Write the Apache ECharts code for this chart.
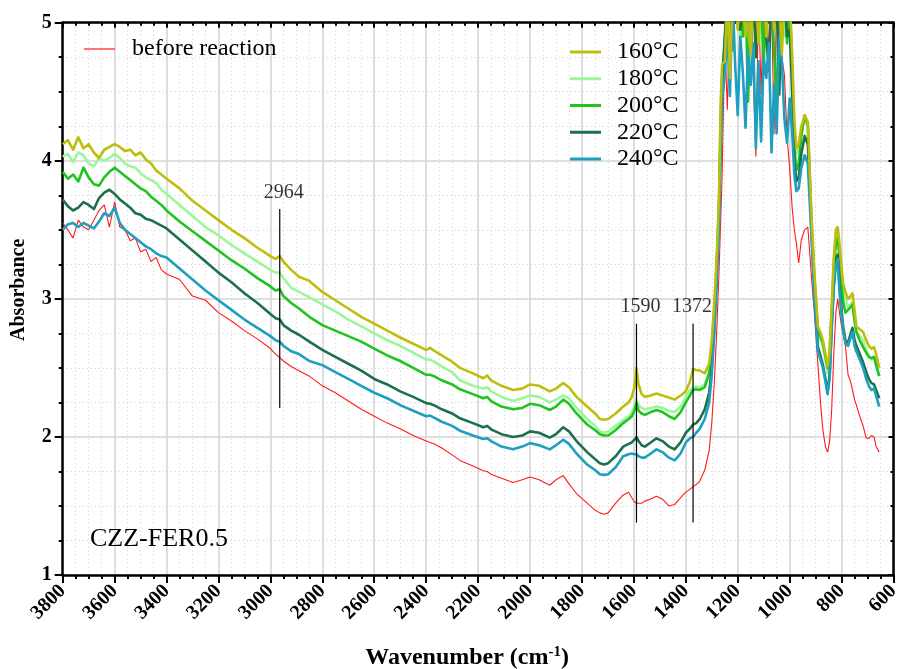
<!DOCTYPE html>
<html><head><meta charset="utf-8">
<script src="https://cdn.jsdelivr.net/npm/echarts@6/dist/echarts.min.js"></script>
<style>html,body{margin:0;padding:0;background:#fff}#c{width:898px;height:669px}</style>
</head><body><div id="c"></div>
<script>
// ---------- DATA ----------
const wavenumbers = [
  3800,3780,3760,3740,3720,3700,3680,3660,3640,3620,3600,3580,3560,3540,3520,3500,3480,3460,3440,3420,3400,
  3350,3300,3250,3200,3150,3100,3050,3000,2980,2964,2950,2920,2890,2850,2800,2750,2700,2650,2600,2550,2500,2450,
  2400,2385,2370,2340,2300,
  2270,2220,2180,2165,2150, 2110,2065,2030,2000,1965, 1924,1900,1872,1850,1821, 1780,1750,1731,1715,1699,
  1670,1641,1620,1608,1598, 1590,1582,1570,1558,1535, 1513,1490,1465,1443,1420, 1400,1384,1372,1360,1346,
  1327,1310,1300,1290,1280, 1272,1266,1260,
  1250,1240,1230,1220,1210,1200,1190,1180,1170,1160,1150,1140,1130,1120,1110,1100,1090,1080,1070,1060,1050,1040,1030,1020,1010,1000,
  990,982,974,965,955,942,930, 916,905,891,880,872, 862,854,846,838,830, 822,815,808,800,794,
  785,775,765,758,750, 743,730,717,705,695, 685,675,667,655
];
const beforeReaction = [
  3.55,3.50,3.44,3.57,3.52,3.50,3.57,3.64,3.68,3.52,3.70,3.52,3.50,3.42,3.44,3.34,3.36,3.27,3.30,3.21,3.18,
  3.14,3.02,2.99,2.90,2.84,2.77,2.71,2.64,2.60,2.575,2.55,2.51,2.48,2.44,2.37,2.32,2.26,2.20,2.15,2.10,2.06,2.01,
  1.97,1.96,1.95,1.92,1.87,
  1.83,1.79,1.755,1.75,1.73, 1.70,1.67,1.69,1.71,1.69, 1.65,1.69,1.72,1.66,1.59, 1.52,1.47,1.45,1.44,1.45,
  1.52,1.58,1.60,1.56,1.53, 1.52,1.52,1.52,1.535,1.55, 1.57,1.55,1.50,1.51,1.56, 1.60,1.62,1.64,1.655,1.68,
  1.76,1.90,2.10,2.40,2.80, 3.20,3.55,3.90,
  4.89,4.37,5.2,4.95,5.2,5.1,5.2,4.90,5.2,5.1,5.2,4.60,4.03,5.2,4.48,5.2,5.2,4.80,5.2,4.19,5.2,5.2,4.75,4.62,4.17,3.95,
  3.65,3.50,3.40,3.26,3.43,3.50,3.52, 3.16,2.90,2.52,2.22,2.05, 1.93,1.89,1.97,2.20,2.60, 2.90,3.00,2.90,2.80,2.74,
  2.66,2.45,2.40,2.40,2.27, 2.23,2.15,2.08,1.99,1.99, 2.01,2.00,1.93,1.89
];
const t160 = [
  4.12,4.15,4.08,4.17,4.09,4.12,4.06,4.02,4.08,4.10,4.12,4.10,4.07,4.08,4.04,4.06,4.01,3.98,3.93,3.90,3.87,
  3.80,3.71,3.64,3.57,3.50,3.44,3.37,3.31,3.29,3.31,3.27,3.21,3.16,3.13,3.05,2.99,2.93,2.87,2.82,2.77,2.72,2.675,
  2.63,2.645,2.625,2.59,2.545,
  2.50,2.46,2.425,2.445,2.41, 2.37,2.34,2.35,2.38,2.37, 2.33,2.35,2.39,2.36,2.29, 2.22,2.17,2.13,2.125,2.13,
  2.17,2.22,2.25,2.29,2.36, 2.50,2.38,2.31,2.29,2.30, 2.315,2.30,2.285,2.27,2.30, 2.33,2.40,2.49,2.485,2.48,
  2.46,2.53,2.70,2.98,3.35, 3.75,4.40,4.70,
  4.72,5.2,4.60,5.2,5.2,4.95,5.2,5.2,4.90,5.2,4.77,5.2,5.2,4.85,5.2,5.2,4.90,5.2,5.2,4.95,5.2,5.2,4.77,5.2,5.2,5.2,
  4.75,4.30,4.09,4.12,4.25,4.33,4.28, 3.61,3.20,2.80,2.75,2.70, 2.60,2.51,2.62,2.95,3.30, 3.50,3.52,3.40,3.22,3.11,
  3.05,3.00,3.02,3.04,2.92, 2.80,2.78,2.76,2.70,2.66, 2.64,2.65,2.60,2.50
];
const t180 = [
  4.03,4.05,3.99,4.06,4.04,3.98,3.96,4.02,4.00,4.02,4.05,4.02,3.98,3.96,3.95,3.91,3.88,3.86,3.84,3.79,3.76,
  3.68,3.60,3.52,3.46,3.39,3.33,3.27,3.21,3.19,3.19,3.15,3.08,3.05,3.01,2.96,2.91,2.85,2.80,2.75,2.70,2.66,2.61,
  2.56,2.56,2.545,2.51,2.47,
  2.41,2.37,2.35,2.36,2.33, 2.29,2.26,2.28,2.30,2.29, 2.25,2.27,2.30,2.28,2.21, 2.13,2.08,2.04,2.03,2.04,
  2.08,2.12,2.15,2.18,2.22, 2.27,2.23,2.21,2.20,2.21, 2.22,2.21,2.19,2.18,2.22, 2.29,2.34,2.36,2.365,2.36,
  2.38,2.48,2.65,2.93,3.30, 3.70,4.30,4.65,
  4.80,5.2,4.75,5.2,5.2,5.2,4.85,5.2,5.2,5.2,4.90,5.2,5.2,5.2,4.85,5.2,5.2,5.2,4.95,5.2,5.2,5.2,5.2,4.90,5.2,5.2,
  4.70,4.20,4.05,4.08,4.22,4.30,4.25, 3.58,3.15,2.76,2.70,2.66, 2.55,2.46,2.58,2.92,3.26, 3.45,3.48,3.36,3.18,3.06,
  3.00,2.94,2.96,2.98,2.86, 2.76,2.73,2.70,2.63,2.59, 2.56,2.58,2.53,2.44
];
const t200 = [
  3.92,3.87,3.90,3.85,3.95,3.88,3.83,3.82,3.88,3.92,3.95,3.92,3.89,3.86,3.83,3.80,3.78,3.74,3.71,3.68,3.64,
  3.56,3.49,3.42,3.35,3.28,3.22,3.15,3.09,3.06,3.07,3.02,2.97,2.93,2.87,2.81,2.77,2.73,2.69,2.64,2.59,2.55,2.50,
  2.45,2.45,2.44,2.41,2.38,
  2.345,2.31,2.28,2.29,2.26, 2.22,2.20,2.21,2.24,2.23, 2.195,2.22,2.27,2.24,2.17, 2.09,2.05,2.02,2.01,2.01,
  2.05,2.10,2.13,2.15,2.19, 2.245,2.19,2.17,2.16,2.18, 2.195,2.18,2.15,2.13,2.18, 2.25,2.30,2.34,2.345,2.34,
  2.36,2.46,2.62,2.90,3.28, 3.68,4.25,4.62,
  4.85,5.2,5.2,4.80,5.2,5.2,5.2,4.90,5.2,4.43,5.2,5.2,4.85,5.2,5.2,4.70,5.2,5.2,5.2,4.80,4.38,5.2,5.2,5.2,4.85,5.2,
  4.60,4.10,3.93,3.98,4.18,4.33,4.26, 3.55,3.15,2.78,2.72,2.68, 2.58,2.50,2.60,2.90,3.20, 3.40,3.44,3.30,3.10,2.98,
  2.90,2.92,2.94,2.96,2.84, 2.76,2.70,2.65,2.61,2.58, 2.57,2.58,2.52,2.44
];
const t220 = [
  3.72,3.67,3.64,3.66,3.70,3.68,3.65,3.73,3.77,3.79,3.76,3.72,3.69,3.66,3.62,3.61,3.58,3.57,3.55,3.53,3.51,
  3.43,3.35,3.27,3.19,3.12,3.04,2.97,2.89,2.86,2.85,2.81,2.77,2.74,2.69,2.63,2.58,2.53,2.48,2.42,2.38,2.33,2.29,
  2.245,2.24,2.23,2.20,2.17,
  2.135,2.10,2.07,2.08,2.055, 2.02,2.00,2.01,2.04,2.03, 1.995,2.02,2.07,2.04,1.97, 1.89,1.84,1.81,1.80,1.81,
  1.86,1.93,1.95,1.96,1.98, 2.00,1.97,1.94,1.93,1.96, 1.99,1.97,1.93,1.91,1.96, 2.03,2.06,2.09,2.10,2.13,
  2.20,2.32,2.50,2.82,3.22, 3.62,4.15,4.55,
  4.90,5.2,5.2,4.85,5.2,5.2,4.95,5.2,5.2,5.2,4.80,5.2,4.75,5.2,5.2,5.2,4.90,4.65,5.2,5.2,5.2,4.48,5.2,5.2,4.90,4.95,
  4.50,4.00,3.85,3.88,4.05,4.18,4.12, 3.50,3.05,2.65,2.58,2.52, 2.42,2.33,2.45,2.80,3.10, 3.28,3.32,3.10,2.92,2.80,
  2.70,2.68,2.75,2.79,2.70, 2.66,2.60,2.54,2.47,2.42, 2.39,2.38,2.34,2.28
];
const t240 = [
  3.50,3.54,3.55,3.52,3.55,3.53,3.51,3.56,3.62,3.60,3.66,3.55,3.50,3.47,3.44,3.41,3.38,3.36,3.33,3.31,3.30,
  3.22,3.14,3.06,2.99,2.92,2.85,2.79,2.73,2.70,2.69,2.66,2.62,2.60,2.55,2.52,2.47,2.42,2.37,2.32,2.28,2.23,2.19,
  2.15,2.155,2.14,2.11,2.08,
  2.045,2.01,1.985,1.99,1.97, 1.93,1.91,1.93,1.955,1.94, 1.91,1.94,1.98,1.95,1.88, 1.80,1.76,1.73,1.725,1.73,
  1.78,1.86,1.875,1.88,1.875, 1.875,1.86,1.85,1.85,1.88, 1.91,1.89,1.85,1.83,1.88, 1.96,1.99,2.00,2.03,2.06,
  2.13,2.25,2.45,2.75,3.15, 3.55,4.05,4.45,
  4.62,4.95,4.47,5.2,4.70,4.33,4.90,4.63,4.24,4.80,4.55,4.85,4.09,4.72,4.14,4.75,4.60,4.85,4.06,4.55,4.20,4.90,4.72,4.30,4.13,4.45,
  4.20,3.90,3.78,3.80,3.95,4.04,3.98, 3.45,3.02,2.62,2.55,2.50, 2.40,2.31,2.42,2.78,3.08, 3.25,3.29,3.05,2.88,2.78,
  2.68,2.66,2.72,2.76,2.66, 2.62,2.56,2.50,2.42,2.37, 2.34,2.35,2.30,2.22
];
const beforeName = 'before reaction';
const tempNames = ['160°C','180°C','200°C','220°C','240°C'];
const tempValues = [t160, t180, t200, t220, t240];
const annWn = [2964, 1590, 1372];
const annLabels = ['2964', '1590', '1372'];
const annTop = [3.65, 2.82, 2.82];
const annBottom = [2.21, 1.38, 1.38];
const sampleLabel = 'CZZ-FER0.5';
const xMin = 600, xMax = 3800, xStep = 200;
const yMin = 1, yMax = 5, yStep = 1;

// ---------- STYLE ----------
const FONT = '"Liberation Serif","Times New Roman",serif';
const tempColors = ['#BEBE0C', '#9AF79A', '#20C420', '#1C704A', '#1E9FC0'];
const redColor = '#FF1A1A';
const annLabelDx = [4, 4, -1];

function pairs(vals) {
  const n = Math.min(wavenumbers.length, vals.length);
  const out = [];
  for (let i = 0; i < n; i++) out.push([wavenumbers[i], vals[i]]);
  return out;
}

const series = [];
series.push({
  name: beforeName, type: 'line', data: pairs(beforeReaction), showSymbol: false, symbol: 'none',
  lineStyle: { color: redColor, width: 1.1 }, itemStyle: { color: redColor }, clip: true, z: 2
});
// draw 180..240 first, then 160 on top
const order = [1, 2, 3, 4, 0];
order.forEach(i => {
  series.push({
    name: tempNames[i], type: 'line', data: pairs(tempValues[i]), showSymbol: false, symbol: 'none',
    lineStyle: { color: tempColors[i], width: 2.6, join: 'round' }, itemStyle: { color: tempColors[i] },
    clip: true, z: 3
  });
});
annWn.forEach((w, i) => {
  series.push({
    name: 'mark' + i, type: 'line', data: [[w, annTop[i]], [w, annBottom[i]]], showSymbol: false, symbol: 'none',
    lineStyle: { color: '#000', width: 1.2 }, z: 5, silent: true
  });
});
series.push({
  name: 'marklabels', type: 'scatter', symbolSize: 1, itemStyle: { color: 'rgba(0,0,0,0)' }, z: 6, silent: true,
  data: annWn.map((w, i) => ({ value: [w, annTop[i]], name: annLabels[i],
    label: { offset: [annLabelDx[i], 0] } })),
  label: { show: true, position: 'top', distance: 6, formatter: '{b}', color: '#000',
           fontFamily: FONT, fontSize: 20 }
});

const axisLineStyle = { color: '#000', width: 2.5 };
const option = {
  animation: false,
  backgroundColor: '#fff',
  grid: { left: 62.7, right: 4.5, top: 22.7, bottom: 94, containLabel: false, outerBoundsMode: 'none' },
  legend: [
    { data: [beforeName], left: 79, top: 32, orient: 'vertical', icon: 'rect', itemWidth: 31, itemHeight: 1.2,
      textStyle: { fontFamily: FONT, fontSize: 24, color: '#000', padding: [0, 0, 0, 12] } },
    { data: tempNames, left: 565, top: 34, orient: 'vertical', icon: 'rect', itemWidth: 31, itemHeight: 3,
      itemGap: 0.75, textStyle: { fontFamily: FONT, fontSize: 24, color: '#000', lineHeight: 26, padding: [0, 0, 0, 11] } }
  ],
  xAxis: [
    { type: 'value', min: xMin, max: xMax, interval: xStep, inverse: true, position: 'bottom',
      name: 'Wavenumber (cm{sup|-1})', nameLocation: 'middle', nameGap: 70,
      nameTextStyle: { fontFamily: FONT, fontSize: 24, fontWeight: 'bold', color: '#000', padding: [0, 22, 0, 0],
        rich: { sup: { fontFamily: FONT, fontSize: 15, fontWeight: 'bold', color: '#000', verticalAlign: 'top', padding: [0, 0, 10, 0] } } },
      axisLine: { show: true, onZero: false, lineStyle: axisLineStyle },
      axisTick: { show: true, inside: false, length: 8, lineStyle: { color: '#000', width: 2 } },
      minorTick: { show: true, splitNumber: 4, length: 4, lineStyle: { color: '#000', width: 2 } },
      axisLabel: { rotate: 45, margin: 13, fontFamily: FONT, fontSize: 20, fontWeight: 'bold', color: '#000',
        showMinLabel: true, showMaxLabel: true, formatter: v => String(v) },
      splitLine: { show: true, lineStyle: { color: '#d6d6d6', width: 1.6 } },
      minorSplitLine: { show: true, lineStyle: { color: '#cfcfcf', width: 1, type: [1, 3] } }
    },
    { type: 'value', min: xMin, max: xMax, interval: xStep, inverse: true, position: 'top',
      axisLine: { show: true, onZero: false, lineStyle: axisLineStyle },
      axisTick: { show: true, inside: true, length: 5, lineStyle: { color: '#000', width: 2 } },
      minorTick: { show: true, splitNumber: 4, length: 3, lineStyle: { color: '#000', width: 2 } },
      axisLabel: { show: false }, splitLine: { show: false }
    }
  ],
  yAxis: [
    { type: 'value', min: yMin, max: yMax, interval: yStep, position: 'left',
      name: 'Absorbance', nameLocation: 'middle', nameGap: 34, nameRotate: 90,
      nameTextStyle: { fontFamily: FONT, fontSize: 20, fontWeight: 'bold', color: '#000', padding: [0, 0, 0, 18] },
      axisLine: { show: true, onZero: false, lineStyle: axisLineStyle },
      axisTick: { show: true, inside: false, length: 8, lineStyle: { color: '#000', width: 2 } },
      minorTick: { show: true, splitNumber: 4, length: 4, lineStyle: { color: '#000', width: 2 } },
      axisLabel: { margin: 11, fontFamily: FONT, fontSize: 20, fontWeight: 'bold', color: '#000',
        showMinLabel: true, showMaxLabel: true },
      splitLine: { show: true, lineStyle: { color: '#d6d6d6', width: 1.6 } },
      minorSplitLine: { show: true, lineStyle: { color: '#cfcfcf', width: 1, type: [1, 3] } }
    },
    { type: 'value', min: yMin, max: yMax, interval: yStep, position: 'right',
      axisLine: { show: true, onZero: false, lineStyle: axisLineStyle },
      axisTick: { show: true, inside: true, length: 5, lineStyle: { color: '#000', width: 2 } },
      minorTick: { show: true, splitNumber: 4, length: 3, lineStyle: { color: '#000', width: 2 } },
      axisLabel: { show: false }, splitLine: { show: false }
    }
  ],
  graphic: [
    { type: 'text', left: 90, top: 526, z: 10,
      style: { text: sampleLabel, font: '26px ' + FONT, fill: '#000' } }
  ],
  series: series
};
const chart = echarts.init(document.getElementById('c'), null, { renderer: 'canvas' });
chart.setOption(option);
</script>
</body></html>
